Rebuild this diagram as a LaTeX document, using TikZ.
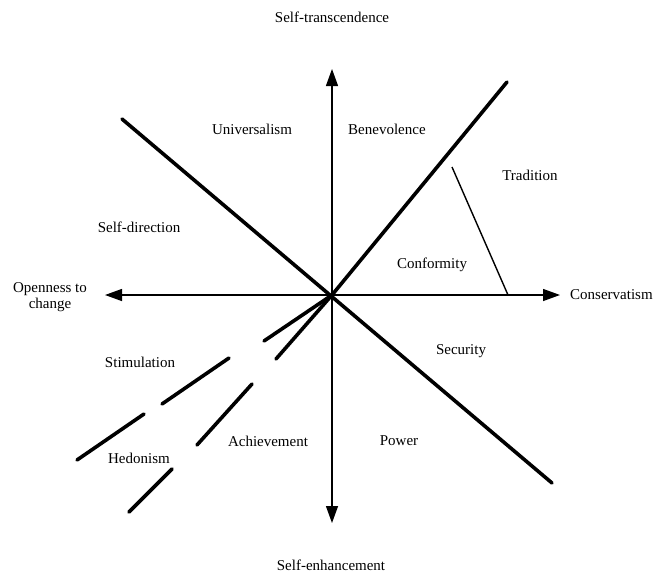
\documentclass[tikz,border=0pt]{standalone}
\usepackage{fontspec}
\setmainfont{Liberation Serif}
\usepackage{tikz}
\usetikzlibrary{arrows.meta}
\tikzstyle{dimarrow} = [line width=1.3pt, -{Triangle[length=17pt,width=12pt]}]
\tikzstyle{boundary} = [line width=3.6pt, line cap=round]
\tikzstyle{thinline} = [line width=1.4pt]
\tikzstyle{valuetext} = [font=\fontsize{15}{16}\selectfont, inner sep=0pt,
    align=center]

\begin{document}
\begin{tikzpicture}[x=1pt, y=-1pt]
  \useasboundingbox (0,0) rectangle (659,574);
  % Place coordinates
  \coordinate (o) at (332,295);
  \coordinate (up) at (332,69);
  \coordinate (down) at (332,523);
  \coordinate (left) at (105,295);
  \coordinate (right) at (560,295);
  \coordinate (ne) at (507,82);
  \coordinate (nw) at (122,119);
  \coordinate (se) at (552,483);
  \coordinate (tradtop) at (452,167);
  \coordinate (tradbot) at (508,295);
  % Place nodes
  \node [valuetext] (trans) at (332,17) {Self-transcendence};
  \node [valuetext] (enh) at (331,565) {Self-enhancement};
  \node [valuetext] (open) at (50,297) {Openness to\\change};
  \node [valuetext, anchor=west] (cons) at (570,295) {Conservatism};
  \node [valuetext] (univ) at (252,129) {Universalism};
  \node [valuetext, anchor=west] (bene) at (348,129) {Benevolence};
  \node [valuetext] (trad) at (530,175) {Tradition};
  \node [valuetext] (sdir) at (139,227) {Self-direction};
  \node [valuetext] (conf) at (432,265) {Conformity};
  \node [valuetext] (secu) at (461,351) {Security};
  \node [valuetext] (stim) at (140,362) {Stimulation};
  \node [valuetext] (achi) at (268,441) {Achievement};
  \node [valuetext] (powe) at (399,441) {Power};
  \node [valuetext] (hedo) at (139,458) {Hedonism};
  % Axes
  \draw [dimarrow] (o) -- (up);
  \draw [dimarrow] (o) -- (down);
  \draw [dimarrow] (o) -- (left);
  \draw [dimarrow] (o) -- (right);
  % Boundaries
  \draw [boundary] (nw) -- (se);
  \draw [boundary] (o) -- (ne);
  \draw [thinline] (tradtop) -- (tradbot);
  \draw [boundary] (o) -- (264,341);
  \draw [boundary] (229,358) -- (162,404);
  \draw [boundary] (144,414) -- (77,460);
  \draw [boundary] (o) -- (276,359);
  \draw [boundary] (252,384) -- (197,445);
  \draw [boundary] (172,469) -- (129,512);
\end{tikzpicture}
\end{document}
